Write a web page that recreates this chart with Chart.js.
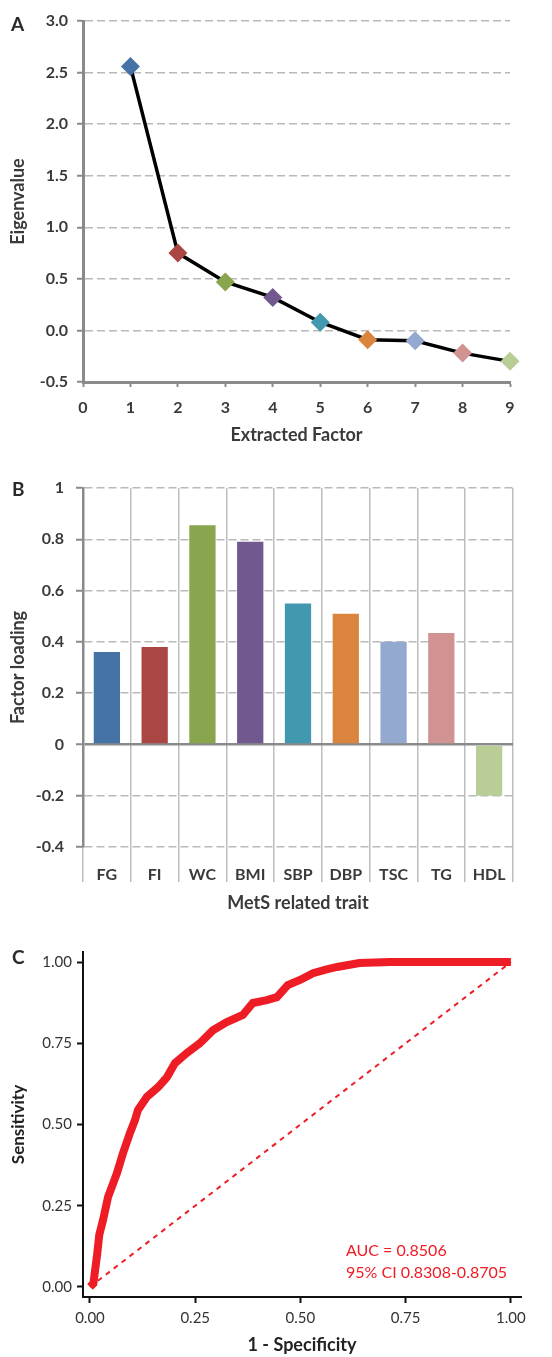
<!DOCTYPE html>
<html>
<head>
<meta charset="utf-8">
<script src="https://cdn.jsdelivr.net/npm/chart.js@4"></script>
<style>
    html, body { margin: 0; padding: 0; background: #fff; }
    body { width: 552px; height: 1357px; position: relative; overflow: hidden; font-family: Lato, sans-serif; }
    .panel { position: absolute; left: 0; width: 552px; }
    .tag { position: absolute; font: bold 19px Lato, sans-serif; color: #2a2a2a; line-height: 1; }
    .note { position: absolute; font: 16px Lato, sans-serif; color: #ee1c25; line-height: 1; white-space: nowrap; }
</style>
</head>
<body>
<div class="panel" style="top:0;height:450px"><canvas id="screeChart"></canvas></div>
<div class="panel" style="top:450px;height:480px"><canvas id="loadingChart"></canvas></div>
<div class="panel" style="top:930px;height:427px"><canvas id="rocChart"></canvas></div>

<div class="tag" style="left:11px;top:14px">A</div>
<div class="tag" style="left:12px;top:479px">B</div>
<div class="tag" style="left:12px;top:947px">C</div>
<div class="note" style="left:346px;top:1242px">AUC = 0.8506</div>
<div class="note" style="left:346px;top:1264px">95% CI 0.8308-0.8705</div>

<script>
// A: scree plot
const factorNumbers = [1, 2, 3, 4, 5, 6, 7, 8, 9];
const eigenvalues = [2.56, 0.75, 0.47, 0.32, 0.08, -0.09, -0.10, -0.22, -0.30];
const screeXTicks = [0, 1, 2, 3, 4, 5, 6, 7, 8, 9];
const screeYTicks = [-0.5, 0, 0.5, 1.0, 1.5, 2.0, 2.5, 3.0];

// B: factor loadings
const traits = ["FG", "FI", "WC", "BMI", "SBP", "DBP", "TSC", "TG", "HDL"];
const loadings = [0.36, 0.38, 0.855, 0.79, 0.55, 0.51, 0.40, 0.435, -0.20];
const loadingTicks = [-0.4, -0.2, 0, 0.2, 0.4, 0.6, 0.8, 1];

// C: ROC curve
const rocFpr = [0, 0.008, 0.012, 0.017, 0.022, 0.031, 0.043, 0.064, 0.078, 0.095, 0.107, 0.114,
    0.135, 0.162, 0.183, 0.202, 0.23, 0.261, 0.292, 0.325, 0.363, 0.387, 0.42, 0.444, 0.47,
    0.499, 0.53, 0.56, 0.587, 0.64, 0.713, 1.0];
const rocTpr = [0, 0.01, 0.05, 0.10, 0.16, 0.206, 0.277, 0.35, 0.41, 0.474, 0.514, 0.545,
    0.585, 0.615, 0.646, 0.689, 0.72, 0.75, 0.79, 0.815, 0.837, 0.874, 0.883, 0.892, 0.929,
    0.945, 0.966, 0.977, 0.985, 0.997, 1.0, 1.0];
const chanceFpr = [0, 1];
const chanceTpr = [0, 1];
const rocTicks = [0, 0.25, 0.5, 0.75, 1];

const excelColors = ["#4572a7", "#aa4643", "#89a54e", "#71588f", "#4198af",
    "#db843d", "#93a9cf", "#d19392", "#b9cd96"];

Chart.defaults.font.family = "Lato, sans-serif";
Chart.defaults.animation = false;

const axisGray = "#8a8a8a";
const gridGray = "#b9b9b9";
const textGray = "#3a3a3a";
const tickFont = { size: 16, weight: "bold" };
const titleFont = { size: 18, weight: "bold" };

function fixTicks(values) {
    return scale => { scale.ticks = values.map(v => ({ value: v })); };
}

function renderScree() {
    new Chart(document.getElementById("screeChart"), {
        type: "scatter",
        data: {
            datasets: [{
                data: factorNumbers.map((f, i) => ({ x: f, y: eigenvalues[i] })),
                showLine: true,
                borderColor: "#000",
                borderWidth: 3.5,
                tension: 0,
                pointStyle: "rectRot",
                pointRadius: 9.5,
                pointBorderWidth: 0,
                pointBackgroundColor: excelColors,
                clip: false
            }]
        },
        options: {
            responsive: true,
            maintainAspectRatio: false,
            layout: { padding: { left: 0, top: 21, right: 42, bottom: 0 } },
            plugins: { legend: { display: false }, tooltip: { enabled: false } },
            scales: {
                x: {
                    type: "linear",
                    min: 0,
                    max: 9,
                    afterBuildTicks: fixTicks(screeXTicks),
                    afterFit: s => { s.height = 68; },
                    grid: { drawOnChartArea: false, tickLength: 5, tickColor: axisGray, tickWidth: 2 },
                    border: { color: axisGray, width: 3 },
                    ticks: { color: textGray, padding: 11, font: tickFont },
                    title: {
                        display: true, text: "Extracted Factor", color: textGray,
                        font: titleFont, padding: { top: 0, bottom: 4 }
                    }
                },
                y: {
                    min: -0.5,
                    max: 3,
                    afterBuildTicks: fixTicks(screeYTicks),
                    afterFit: s => { s.width = 83; },
                    grid: {
                        color: c => c.tick && c.tick.value === -0.5 ? "rgba(0,0,0,0)" : gridGray,
                        lineWidth: 1.5,
                        tickLength: 6, tickColor: axisGray, tickWidth: 2
                    },
                    border: { color: axisGray, width: 3, dash: [8, 4] },
                    ticks: { color: textGray, padding: 9, font: tickFont, callback: v => v.toFixed(1) },
                    title: {
                        display: true, text: "Eigenvalue", color: textGray,
                        font: titleFont, padding: { top: 7, bottom: 0 }
                    }
                }
            }
        }
    });
}

function renderLoadings() {
    new Chart(document.getElementById("loadingChart"), {
        type: "bar",
        data: {
            labels: traits,
            datasets: [{
                data: loadings,
                backgroundColor: excelColors,
                barPercentage: 0.55,
                categoryPercentage: 1
            }]
        },
        options: {
            responsive: true,
            maintainAspectRatio: false,
            layout: { padding: { left: 0, top: 38, right: 39, bottom: 0 } },
            plugins: { legend: { display: false }, tooltip: { enabled: false } },
            scales: {
                x: {
                    afterFit: s => { s.height = 83; },
                    grid: {
                        offset: true, color: "#bdbdbd", lineWidth: 1.5,
                        tickLength: 35, tickColor: "#bdbdbd", tickWidth: 1.5
                    },
                    border: { display: false },
                    ticks: { color: textGray, padding: -17, font: tickFont },
                    title: {
                        display: true, text: "MetS related trait", color: textGray,
                        font: titleFont, padding: { top: 0, bottom: 16 }
                    }
                },
                y: {
                    min: -0.4,
                    max: 1,
                    afterBuildTicks: fixTicks(loadingTicks),
                    afterFit: s => { s.width = 83; },
                    grid: {
                        color: c => c.tick && c.tick.value === 0 ? axisGray : gridGray,
                        lineWidth: c => c.tick && c.tick.value === 0 ? 2.5 : 1.5,
                        tickLength: 7, tickColor: axisGray, tickWidth: 2
                    },
                    border: {
                        color: axisGray, width: 2.5,
                        dash: c => c.tick && c.tick.value === 0 ? [] : [8, 4]
                    },
                    ticks: {
                        color: textGray, padding: 12, font: tickFont,
                        callback: v => String(Math.round(v * 10) / 10)
                    },
                    title: {
                        display: true, text: "Factor loading", color: textGray,
                        font: titleFont, padding: { top: 7, bottom: 0 }
                    }
                }
            }
        }
    });
}

function renderRoc() {
    new Chart(document.getElementById("rocChart"), {
        type: "scatter",
        data: {
            datasets: [
                {
                    data: rocFpr.map((x, i) => ({ x, y: rocTpr[i] })),
                    showLine: true,
                    borderColor: "#ee1c25",
                    borderWidth: 8,
                    pointRadius: 0,
                    tension: 0
                },
                {
                    data: chanceFpr.map((x, i) => ({ x, y: chanceTpr[i] })),
                    showLine: true,
                    borderColor: "#ee1c25",
                    borderWidth: 2,
                    borderDash: [5, 5],
                    pointRadius: 0
                }
            ]
        },
        options: {
            responsive: true,
            maintainAspectRatio: false,
            layout: { padding: { left: 0, top: 22, right: 31, bottom: 0 } },
            plugins: { legend: { display: false }, tooltip: { enabled: false } },
            scales: {
                x: {
                    type: "linear",
                    min: -0.0166,
                    max: 1.024,
                    afterBuildTicks: fixTicks(rocTicks),
                    afterFit: s => { s.height = 60; },
                    grid: { drawOnChartArea: false, tickLength: 6, tickColor: "#111", tickWidth: 2 },
                    border: { color: "#111", width: 2 },
                    ticks: { color: "#333", padding: 6, font: { size: 15 }, callback: v => v.toFixed(2) },
                    title: {
                        display: true, text: "1 - Specificity", color: "#222",
                        font: titleFont, padding: { top: 0, bottom: 1 }
                    }
                },
                y: {
                    min: -0.031,
                    max: 1.031,
                    afterBuildTicks: fixTicks(rocTicks),
                    afterFit: s => { s.width = 83; },
                    grid: { drawOnChartArea: false, tickLength: 6, tickColor: "#111", tickWidth: 2 },
                    border: { color: "#111", width: 2 },
                    ticks: { color: "#333", padding: 5, font: { size: 15 }, callback: v => v.toFixed(2) },
                    title: {
                        display: true, text: "Sensitivity", color: "#222",
                        font: { size: 17, weight: "bold" }, padding: { top: 8, bottom: 0 }
                    }
                }
            }
        }
    });
}

renderScree();
renderLoadings();
renderRoc();
</script>
</body>
</html>
